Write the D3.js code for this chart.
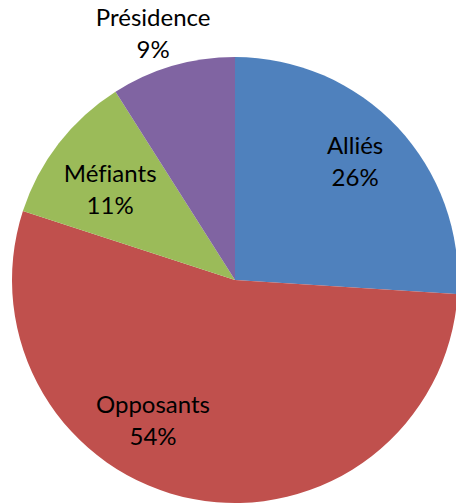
<!DOCTYPE html>
<html>
<head>
<meta charset="utf-8">
<script src="https://cdn.jsdelivr.net/npm/d3@7"></script>
<style>
  html, body { margin: 0; padding: 0; background: #fff; }
  svg { display: block; }
  text { font-family: Lato, "Open Sans", sans-serif; font-size: 24px; fill: #000;
         font-variant-ligatures: none; font-feature-settings: "liga" 0; }
</style>
</head>
<body>
<svg id="chart" width="456" height="504"></svg>
<script>
// Répartition des acteurs (en %)
const categories = ["Alliés", "Opposants", "Méfiants", "Présidence"];
const values = [26, 54, 11, 9];
const colors = ["#4F81BD", "#C0504D", "#9BBB59", "#8064A2"];

const width = 456, height = 504;
const cx = 235, cy = 280, radius = 223;

// Label anchor per slice: radius factor and angle (deg, clockwise from 12 o'clock)
const labelPlacement = [
  { r: 0.755, a: 45.5 },
  { r: 0.731, a: 210.2 },
  { r: 0.690, a: 305.75 },
  { r: 1.163, a: 341.6 }
];

const svg = d3.select("#chart");
const g = svg.append("g").attr("transform", `translate(${cx},${cy})`);

const pie = d3.pie().sort(null).value(d => d);
const arc = d3.arc().innerRadius(0).outerRadius(radius);
const arcs = pie(values);

g.selectAll("path.slice")
  .data(arcs)
  .join("path")
  .attr("class", "slice")
  .attr("d", arc)
  .attr("fill", (d, i) => colors[i]);

const labels = g.selectAll("text.label")
  .data(arcs)
  .join("text")
  .attr("class", "label")
  .attr("text-anchor", "middle")
  .attr("transform", (d, i) => {
    const p = labelPlacement[i];
    const a = p.a * Math.PI / 180;
    const x = Math.sin(a) * radius * p.r;
    const y = -Math.cos(a) * radius * p.r;
    return `translate(${x},${y})`;
  });

labels.append("tspan")
  .attr("x", 0)
  .attr("y", -8)
  .text((d, i) => categories[i]);

labels.append("tspan")
  .attr("x", 0)
  .attr("y", 24)
  .text(d => d.data + "%");
</script>
</body>
</html>
